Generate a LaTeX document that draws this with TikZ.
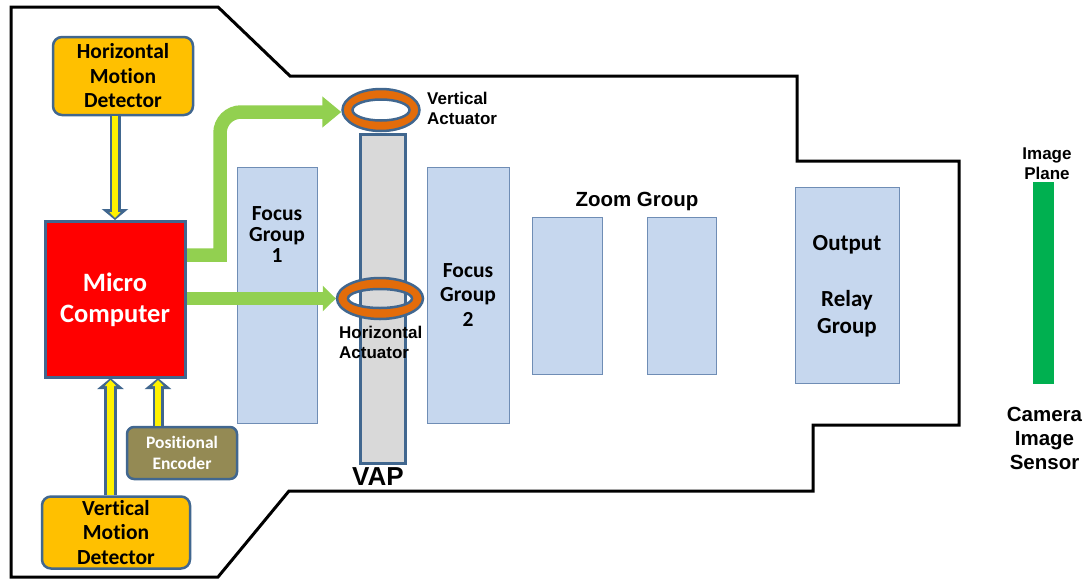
\documentclass[tikz,border=0pt]{standalone}
\usepackage{fontspec}
\setmainfont{Carlito}[Ligatures=CommonOff]
\newfontfamily\arialfont{Liberation Sans}
\usetikzlibrary{arrows.meta,positioning,shapes.geometric}
\definecolor{rimblue}{HTML}{41678F}
\definecolor{lensblue}{HTML}{C6D7EE}
\definecolor{lensrim}{HTML}{6F8DB5}
\definecolor{detorange}{HTML}{FFC000}
\definecolor{ringorange}{HTML}{E36C0A}
\definecolor{wiregreen}{HTML}{92D050}
\definecolor{sensorgreen}{HTML}{00B050}
\definecolor{encbrown}{HTML}{948A54}
\tikzset{
  detector/.style={draw=rimblue,line width=2.5pt,fill=detorange,rounded corners=9pt,font=\bfseries\fontsize{21.5}{24.5}\selectfont,align=center,inner sep=0pt},
  lens/.style={draw=lensrim,line width=1pt,fill=lensblue,inner sep=0pt},
  label/.style={font=\bfseries\fontsize{21.5}{21}\selectfont,align=center,inner sep=0pt},
  arial/.style={font=\arialfont\bfseries\fontsize{#1}{24}\selectfont,inner sep=0pt},
  actuator/.style={font=\arialfont\bfseries\fontsize{17}{20}\selectfont,inner sep=0pt,align=left,anchor=west},
  ringbody/.style={ellipse,inner sep=0pt},
  ringline/.style={draw=rimblue,line width=2.5pt,fill=ringorange,even odd rule},
  yellowrim/.style={draw=rimblue,line width=#1,-{Triangle[length=11pt,width=26pt]}},
  yellowcore/.style={draw=yellow,line width=#1,shorten >=2pt,-{Triangle[length=6pt,width=11pt]}},
  greenwire/.style={draw=wiregreen,line width=13.5pt,line join=miter}
}
\begin{document}
\begin{tikzpicture}[x=1pt,y=-1pt]
  \useasboundingbox (0,0) rectangle (1088,579);
  % housing
  \draw[line width=3pt,line join=miter] (11,7) -- (218,7) -- (290,76) -- (797,76) -- (797,161) -- (959,161) -- (959,425) -- (813,425) -- (813,491) -- (289,491) -- (218,577) -- (11,577) -- cycle;

  % lens groups
  \node[lens,minimum width=80pt,minimum height=256pt] (focus one) at (277,295) {};
  \node[label] at (277,235) {Focus\\Group\\1};
  \node[lens,minimum width=82pt,minimum height=256pt] (focus two) at (468,295) {};
  \node[label,font=\bfseries\fontsize{21.5}{24.5}\selectfont] at (468,295) {Focus\\Group\\2};
  \node[lens,minimum width=70pt,minimum height=157pt] (zoom one) at (567,295.5) {};
  \node[lens,minimum width=69pt,minimum height=157pt] (zoom two) [right=44.5pt of zoom one] {};
  \node[arial=20.5] at (637,201.5) {Zoom Group};
  \node[lens,minimum width=104pt,minimum height=196pt] (relay) at (847,285) {};
  \node[label,font=\bfseries\fontsize{23}{26}\selectfont] at (847,245) {Output};
  \node[label,font=\bfseries\fontsize{23}{26}\selectfont] at (847,300) {Relay};
  \node[label,font=\bfseries\fontsize{23}{26}\selectfont] at (847,328) {Group};

  % sensor
  \node[fill=sensorgreen,minimum width=21pt,minimum height=202pt,inner sep=0pt] (sensor) at (1043.5,283) {};
  \node[arial=17,align=center,font=\arialfont\bfseries\fontsize{17}{20}\selectfont] at (1047,163.5) {Image\\Plane};
  \node[arial=20.5,align=center] at (1044.5,438.5) {Camera\\Image\\Sensor};

  % VAP and rings
  \node[draw=rimblue,line width=3pt,fill=black!15,minimum width=45pt,minimum height=329pt,inner sep=0pt] (vap) at (382.5,298.5) {};
  \node[arial=26] at (378,477) {VAP};

  % signal arrows
  \node[ringbody,minimum width=79pt,minimum height=44pt] (vertical ring) at (381,110) {};
  \node[ringbody,minimum width=88pt,minimum height=43pt] (horizontal ring) at (380,298.5) {};
  \coordinate (upper out) at (185,255);
  \coordinate (lower out) at (185,298.5);
  \draw[greenwire,-{Triangle[length=19pt,width=30pt]}] (upper out) -- (220,255) [rounded corners=21pt] -- (220,112) -- ([yshift=-2pt]vertical ring.west);
  \draw[greenwire,-{Triangle[length=13pt,width=25pt]}] (lower out) -- (horizontal ring.west);

  \draw[ringline] (vertical ring.center) ellipse [x radius=38.5,y radius=21] ellipse [x radius=28.5,y radius=10.5];
  \draw[ringline] (horizontal ring.center) ellipse [x radius=43,y radius=20.5] ellipse [x radius=32,y radius=9.5];
  \node[actuator] at (427,108) {Vertical\\Actuator};
  \node[actuator] at (339,342) {Horizontal\\Actuator};

  % electronics
  \node[draw=rimblue,line width=3pt,fill=red,minimum width=140pt,minimum height=156pt,text=white,font=\bfseries\fontsize{26.5}{31}\selectfont,align=center,inner sep=0pt] (micro) at (115,299.5) {Micro\\Computer};
  \node[detector,minimum width=140pt,minimum height=78pt] (horizontal det) at (123,76) {Horizontal\\Motion\\Detector};
  \node[detector,minimum width=148pt,minimum height=72pt] (vertical det) at (116,532.5) {Vertical\\Motion\\Detector};
  \node[draw=rimblue,line width=2.5pt,fill=encbrown,rounded corners=7pt,minimum width=110pt,minimum height=52pt,text=white,font=\bfseries\fontsize{17.5}{21}\selectfont,align=center,inner sep=0pt] (encoder) at (182,453) {Positional\\Encoder};

  \coordinate (vertical in) at (110.5,378);
  \coordinate (encoder in) at (158,378);
  \draw[yellowrim=11pt] (micro.north |- horizontal det.south) -- (micro.north);
  \draw[yellowrim=13pt] (vertical in |- vertical det.north) -- (vertical in);
  \draw[yellowrim=11pt] (encoder in |- encoder.north) -- (encoder in);
  \draw[yellowcore=5.5pt] (micro.north |- horizontal det.south) -- (micro.north);
  \draw[yellowcore=7.5pt] (vertical in |- vertical det.north) -- (vertical in);
  \draw[yellowcore=5.5pt] (encoder in |- encoder.north) -- (encoder in);
\end{tikzpicture}
\end{document}
